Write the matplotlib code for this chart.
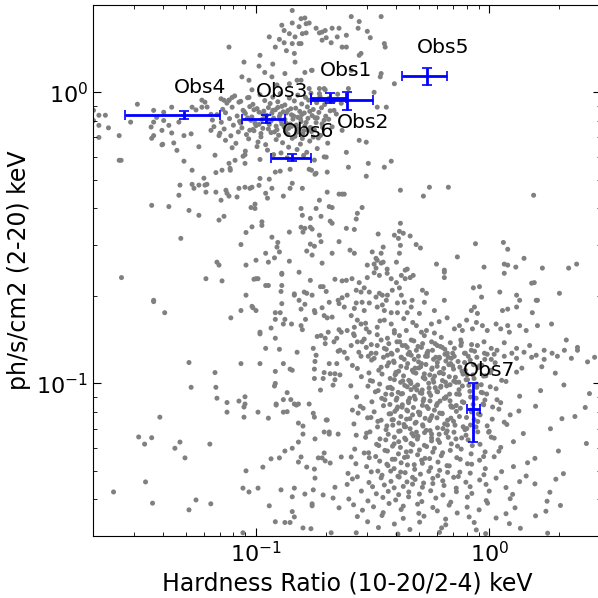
import matplotlib
matplotlib.use('Agg')
import matplotlib.pyplot as plt
import numpy as np

# Observations (hardness ratio, flux) with error bars
obs_names = ['Obs1', 'Obs2', 'Obs3', 'Obs4', 'Obs5', 'Obs6', 'Obs7']
obs_hr = [0.208, 0.245, 0.110, 0.049, 0.542, 0.143, 0.851]
obs_hr_lo = [0.036, 0.073, 0.0227, 0.0215, 0.119, 0.0273, 0.050]
obs_hr_hi = [0.036, 0.073, 0.023, 0.021, 0.120, 0.029, 0.061]
obs_flux = [0.956, 0.939, 0.812, 0.834, 1.135, 0.597, 0.0816]
obs_flux_err = [0.038, 0.067, 0.025, 0.027, 0.075, 0.015, 0.0185]

# Background sample, (hardness, flux) pairs
upper_plume = [
    (0.143, 1.91), (0.162, 1.80), (0.129, 1.70), (0.143, 1.73), (0.153, 1.68), (0.169, 1.73),
    (0.132, 1.63), (0.139, 1.59), (0.147, 1.55), (0.158, 1.59), (0.143, 1.47), (0.153, 1.47),
    (0.132, 1.48), (0.114, 1.55), (0.121, 1.43), (0.187, 1.60), (0.198, 1.63), (0.192, 1.51),
    (0.223, 1.55), (0.227, 1.66), (0.0766, 1.43), (0.104, 1.34), (0.0888, 1.27), (0.147, 1.27),
    (0.162, 1.17), (0.174, 1.19), (0.103, 1.23), (0.109, 1.17), (0.117, 1.13), (0.087, 1.13),
    (0.0933, 1.10), (0.123, 1.06), (0.139, 1.07), (0.150, 1.10), (0.079, 0.96), (0.0729, 0.939),
    (0.0766, 0.939), (0.0845, 0.925), (0.0933, 0.96), (0.0961, 1.02), (0.169, 1.03), (0.187, 0.99),
    (0.198, 1.02), (0.256, 1.82), (0.277, 1.75), (0.344, 1.82), (0.274, 1.66), (0.30, 1.62),
    (0.244, 1.57), (0.309, 1.54), (0.355, 1.47), (0.358, 1.43), (0.244, 1.43), (0.282, 1.36),
    (0.277, 1.34), (0.256, 1.19), (0.344, 1.16), (0.341, 1.13), (0.392, 1.07), (0.321, 1.00),
    (0.249, 1.03), (0.331, 0.889), (0.362, 0.889), (0.156, 1.79), (0.164, 1.72), (0.181, 1.66),
    (0.192, 1.61), (0.212, 1.66), (0.164, 1.60), (0.20, 1.54), (0.21, 1.48), (0.156, 1.47),
    (0.234, 1.43), (0.173, 1.19), (0.156, 1.10), (0.187, 1.03), (0.196, 1.03), (0.135, 1.39),
    (0.126, 1.52), (0.146, 1.36), (0.118, 1.25), (0.133, 1.16),
]

upper_band = [
    (0.081, 0.972), (0.092, 0.958), (0.104, 0.981), (0.118, 0.963), (0.127, 0.990), (0.139, 0.955),
    (0.151, 0.978), (0.163, 0.961), (0.172, 0.993), (0.188, 0.968), (0.205, 0.951), (0.224, 0.985),
    (0.075, 0.918), (0.086, 0.931), (0.097, 0.909), (0.109, 0.937), (0.115, 0.915), (0.124, 0.928),
    (0.133, 0.905), (0.146, 0.934), (0.157, 0.912), (0.168, 0.940), (0.182, 0.921), (0.197, 0.908),
    (0.215, 0.933), (0.232, 0.917),
    (0.072, 0.874), (0.079, 0.889), (0.088, 0.867), (0.094, 0.893), (0.101, 0.879), (0.108, 0.862),
    (0.113, 0.886), (0.121, 0.871), (0.129, 0.895), (0.137, 0.866), (0.148, 0.882), (0.154, 0.860),
    (0.166, 0.891), (0.176, 0.873), (0.191, 0.885), (0.208, 0.864),
    (0.068, 0.838), (0.074, 0.851), (0.083, 0.829), (0.090, 0.846), (0.096, 0.823), (0.103, 0.855),
    (0.111, 0.834), (0.117, 0.848), (0.126, 0.826), (0.131, 0.857), (0.142, 0.837), (0.151, 0.821),
    (0.161, 0.849), (0.174, 0.832), (0.186, 0.853), (0.199, 0.828), (0.221, 0.842),
    (0.065, 0.803), (0.071, 0.789), (0.077, 0.812), (0.085, 0.795), (0.092, 0.817), (0.099, 0.784),
    (0.106, 0.806), (0.112, 0.791), (0.119, 0.815), (0.128, 0.798), (0.135, 0.782), (0.144, 0.809),
    (0.156, 0.793), (0.167, 0.814), (0.181, 0.787), (0.196, 0.802),
    (0.066, 0.762), (0.073, 0.748), (0.080, 0.771), (0.087, 0.755), (0.094, 0.741), (0.100, 0.768),
    (0.107, 0.752), (0.114, 0.775), (0.123, 0.744), (0.132, 0.760), (0.140, 0.778), (0.152, 0.749),
    (0.162, 0.766), (0.178, 0.743), (0.193, 0.758),
    (0.070, 0.724), (0.078, 0.709), (0.084, 0.731), (0.091, 0.716), (0.098, 0.738), (0.105, 0.703),
    (0.116, 0.727), (0.125, 0.712), (0.134, 0.735), (0.147, 0.706), (0.159, 0.721), (0.173, 0.733),
    (0.189, 0.711),
    (0.074, 0.684), (0.082, 0.668), (0.093, 0.692), (0.102, 0.675), (0.110, 0.661), (0.122, 0.688),
    (0.130, 0.671), (0.143, 0.695), (0.155, 0.664), (0.170, 0.680), (0.185, 0.697), (0.203, 0.669),
    (0.079, 0.645), (0.090, 0.628), (0.101, 0.651), (0.112, 0.633), (0.128, 0.619), (0.138, 0.648),
    (0.150, 0.636), (0.165, 0.622), (0.183, 0.641),
    (0.088, 0.603), (0.104, 0.588), (0.119, 0.611), (0.136, 0.596), (0.160, 0.607), (0.178, 0.585),
    (0.20, 0.599), (0.196, 0.60), (0.173, 0.54), (0.181, 0.527), (0.234, 0.74), (0.216, 0.867),
    (0.086, 0.783), (0.095, 0.801), (0.103, 0.776), (0.109, 0.823), (0.116, 0.797), (0.122, 0.765),
    (0.127, 0.842), (0.133, 0.806), (0.138, 0.752), (0.145, 0.829), (0.149, 0.772), (0.155, 0.812),
    (0.160, 0.738), (0.164, 0.788), (0.171, 0.757), (0.179, 0.818), (0.097, 0.745), (0.105, 0.722),
    (0.113, 0.748), (0.120, 0.731), (0.129, 0.779), (0.137, 0.718), (0.142, 0.764), (0.150, 0.729),
    (0.158, 0.694), (0.167, 0.741), (0.176, 0.702), (0.089, 0.858), (0.098, 0.871), (0.107, 0.842),
    (0.118, 0.867), (0.124, 0.887), (0.135, 0.849), (0.141, 0.878), (0.157, 0.838), (0.170, 0.860),
    (0.183, 0.817), (0.192, 0.779), (0.205, 0.808), (0.212, 0.761),
]

left_tail = [
    (0.0201, 0.867), (0.0212, 0.834), (0.0226, 0.834), (0.0201, 0.80), (0.0212, 0.77), (0.0233, 0.755),
    (0.0259, 0.71), (0.0212, 0.70), (0.0310, 0.91), (0.0259, 0.584), (0.0264, 0.584), (0.0355, 0.76),
    (0.0364, 0.79), (0.0375, 0.82), (0.0402, 0.80), (0.0423, 0.77), (0.0395, 0.74), (0.0435, 0.725),
    (0.0467, 0.79), (0.0491, 0.71), (0.0527, 0.72), (0.0395, 0.66), (0.0444, 0.67), (0.0364, 0.71),
    (0.0290, 0.79), (0.0586, 0.94), (0.0553, 0.87), (0.0617, 0.89), (0.0641, 0.84), (0.0708, 0.95),
    (0.0766, 0.94), (0.0641, 0.74), (0.0694, 0.71), (0.0569, 0.65), (0.0491, 0.58), (0.0532, 0.54),
    (0.0472, 0.48), (0.0569, 0.48), (0.0604, 0.48), (0.0673, 0.53), (0.0715, 0.54), (0.0776, 0.54),
    (0.0766, 0.57), (0.0813, 0.584), (0.0897, 0.61), (0.0897, 0.57), (0.0604, 0.925), (0.0586, 0.889),
    (0.0532, 0.889), (0.0435, 0.889), (0.0402, 0.854), (0.0364, 0.867), (0.0357, 0.695), (0.0398, 0.663),
    (0.0458, 0.632), (0.0532, 0.483), (0.0542, 0.468), (0.0598, 0.507), (0.0616, 0.483), (0.0667, 0.608),
    (0.0774, 0.548),
]

bridge = [
    (0.0467, 0.443), (0.0516, 0.393), (0.0569, 0.378), (0.0357, 0.409), (0.0423, 0.405), (0.0610, 0.454),
    (0.0673, 0.454), (0.0743, 0.461), (0.0845, 0.468), (0.0708, 0.426), (0.0751, 0.45), (0.0829, 0.437),
    (0.0961, 0.472), (0.110, 0.45), (0.0694, 0.364), (0.0476, 0.315), (0.0906, 0.33), (0.0961, 0.345),
    (0.106, 0.359), (0.117, 0.318), (0.123, 0.294), (0.0265, 0.231), (0.0610, 0.229), (0.068, 0.261),
    (0.0694, 0.255), (0.0906, 0.255), (0.100, 0.265), (0.110, 0.28), (0.120, 0.27), (0.100, 0.229),
    (0.110, 0.217), (0.129, 0.239), (0.0906, 0.201), (0.129, 0.217), (0.146, 0.201), (0.0364, 0.193),
    (0.0766, 0.44), (0.0897, 0.472), (0.0942, 0.468), (0.103, 0.479), (0.104, 0.506), (0.114, 0.503),
    (0.117, 0.468), (0.112, 0.433), (0.131, 0.44), (0.121, 0.532), (0.127, 0.536), (0.0729, 0.375),
    (0.0952, 0.402), (0.099, 0.413), (0.099, 0.399), (0.106, 0.349), (0.124, 0.305), (0.0862, 0.30),
    (0.126, 0.283), (0.113, 0.261),
    (0.140, 0.468), (0.143, 0.487), (0.158, 0.468), (0.140, 0.544), (0.169, 0.544), (0.179, 0.523),
    (0.202, 0.532), (0.202, 0.454), (0.227, 0.447), (0.234, 0.447), (0.187, 0.426), (0.181, 0.399),
    (0.206, 0.405), (0.212, 0.402), (0.156, 0.399), (0.158, 0.378), (0.171, 0.369), (0.190, 0.375),
    (0.208, 0.361), (0.212, 0.355), (0.139, 0.331), (0.156, 0.344), (0.159, 0.331), (0.162, 0.341),
    (0.171, 0.344), (0.174, 0.339), (0.187, 0.323), (0.190, 0.307), (0.227, 0.307), (0.171, 0.301),
    (0.178, 0.296), (0.165, 0.285), (0.174, 0.276), (0.212, 0.28), (0.192, 0.259), (0.139, 0.263),
    (0.277, 0.684), (0.297, 0.674), (0.244, 0.622), (0.249, 0.553), (0.303, 0.57), (0.355, 0.553),
    (0.380, 0.58), (0.297, 0.515), (0.416, 0.461), (0.522, 0.44), (0.554, 0.472), (0.668, 0.472),
    (1.55, 0.443), (0.239, 0.447), (0.285, 0.402), (0.272, 0.384), (0.269, 0.367), (0.244, 0.341),
    (0.264, 0.338), (0.416, 0.355), (0.412, 0.333), (0.392, 0.323), (0.408, 0.315), (0.428, 0.328),
    (0.458, 0.321), (0.334, 0.326), (0.351, 0.294), (0.416, 0.298), (0.486, 0.30), (0.507, 0.292),
    (0.253, 0.287), (0.264, 0.28), (0.315, 0.283), (0.344, 0.28), (0.327, 0.269), (0.331, 0.265),
    (0.412, 0.28), (0.873, 0.302), (1.15, 0.305), (1.20, 0.289), (0.73, 0.272), (1.41, 0.269),
    (0.30, 0.255), (0.321, 0.257), (0.327, 0.249), (0.344, 0.259), (0.351, 0.261), (0.40, 0.261),
    (0.365, 0.247), (0.445, 0.247), (0.594, 0.257), (0.642, 0.245), (0.95, 0.251), (1.16, 0.257),
    (1.20, 0.255), (1.30, 0.251), (1.69, 0.249), (2.19, 0.249), (2.37, 0.257),
]

lower_left = [
    (0.0715, 0.225), (0.098, 0.228), (0.102, 0.229), (0.113, 0.217), (0.129, 0.237), (0.128, 0.207),
    (0.153, 0.241), (0.171, 0.226), (0.189, 0.215), (0.194, 0.215), (0.20, 0.207), (0.218, 0.228),
    (0.234, 0.225), (0.0364, 0.191), (0.0406, 0.175), (0.0862, 0.178), (0.097, 0.182), (0.100, 0.178),
    (0.078, 0.168), (0.121, 0.175), (0.127, 0.175), (0.129, 0.188), (0.146, 0.203), (0.153, 0.193),
    (0.162, 0.187), (0.161, 0.206), (0.165, 0.204), (0.174, 0.201), (0.156, 0.18), (0.178, 0.178),
    (0.179, 0.175), (0.192, 0.182), (0.206, 0.19), (0.196, 0.171), (0.202, 0.168), (0.212, 0.169),
    (0.225, 0.193), (0.227, 0.188), (0.234, 0.197), (0.121, 0.166), (0.133, 0.166), (0.142, 0.16),
    (0.131, 0.16), (0.156, 0.158), (0.158, 0.153), (0.163, 0.166), (0.116, 0.155), (0.104, 0.15),
    (0.121, 0.143), (0.110, 0.132), (0.126, 0.131), (0.150, 0.128), (0.176, 0.132), (0.181, 0.125),
    (0.183, 0.145), (0.190, 0.146), (0.198, 0.143), (0.204, 0.15), (0.198, 0.137), (0.216, 0.139),
    (0.222, 0.143), (0.227, 0.153), (0.232, 0.15), (0.225, 0.129), (0.229, 0.13), (0.0516, 0.118),
    (0.0862, 0.117), (0.104, 0.117), (0.131, 0.117), (0.179, 0.119), (0.206, 0.117), (0.222, 0.117),
    (0.121, 0.11), (0.140, 0.112), (0.178, 0.112), (0.196, 0.109), (0.208, 0.108), (0.218, 0.108),
    (0.229, 0.107), (0.0667, 0.109), (0.178, 0.104), (0.194, 0.104), (0.218, 0.103), (0.214, 0.0987),
    (0.189, 0.0949), (0.121, 0.10), (0.120, 0.098), (0.136, 0.093), (0.0527, 0.097), (0.0673, 0.097),
    (0.068, 0.089), (0.0751, 0.086), (0.0845, 0.087), (0.0897, 0.09), (0.0897, 0.085), (0.122, 0.085),
    (0.141, 0.088), (0.146, 0.085), (0.152, 0.085), (0.169, 0.085), (0.0961, 0.184), (0.104, 0.148),
    (0.143, 0.111), (0.131, 0.088), (0.136, 0.080), (0.126, 0.0555),
    (0.0387, 0.0766), (0.0751, 0.0797), (0.0888, 0.083), (0.0888, 0.0766), (0.102, 0.0797), (0.113, 0.076),
    (0.122, 0.0843), (0.131, 0.0797), (0.149, 0.0843), (0.176, 0.079), (0.178, 0.0766), (0.20, 0.0749),
    (0.152, 0.0731), (0.159, 0.0714), (0.159, 0.067), (0.152, 0.0629), (0.143, 0.0599), (0.133, 0.0586),
    (0.156, 0.0559), (0.152, 0.0537), (0.165, 0.0516), (0.178, 0.0508), (0.179, 0.0473), (0.179, 0.0645),
    (0.196, 0.0577), (0.196, 0.0681), (0.202, 0.0749), (0.206, 0.0681), (0.206, 0.067), (0.225, 0.067),
    (0.185, 0.0555), (0.192, 0.0555), (0.198, 0.0542), (0.208, 0.0533), (0.232, 0.0559), (0.0314, 0.0655),
    (0.0333, 0.0619), (0.0357, 0.0651), (0.0449, 0.0599), (0.0472, 0.0629), (0.0496, 0.0555), (0.0634, 0.0619),
    (0.0336, 0.0459), (0.0245, 0.0424), (0.0360, 0.0388), (0.0516, 0.0368), (0.0553, 0.0398), (0.064, 0.0386),
    (0.0906, 0.0501), (0.0879, 0.0437), (0.0933, 0.0424), (0.102, 0.0437), (0.107, 0.0516), (0.116, 0.0551),
    (0.128, 0.0431), (0.143, 0.0408), (0.146, 0.0437), (0.162, 0.0417), (0.176, 0.0431), (0.194, 0.0414),
    (0.214, 0.0404), (0.218, 0.044), (0.227, 0.0374), (0.114, 0.038), (0.143, 0.0363), (0.146, 0.0348),
    (0.121, 0.0335), (0.133, 0.0333), (0.140, 0.0333), (0.174, 0.0386), (0.174, 0.038), (0.159, 0.0319),
    (0.172, 0.0317), (0.0879, 0.0307), (0.21, 0.0307), (0.259, 0.081), (0.256, 0.0559),
]

lower_upper = [
    (0.244, 0.226), (0.258, 0.229), (0.277, 0.222), (0.30, 0.231), (0.321, 0.24), (0.338, 0.235),
    (0.365, 0.239), (0.380, 0.229), (0.40, 0.222), (0.420, 0.235), (0.436, 0.229), (0.458, 0.231),
    (0.472, 0.235), (0.436, 0.245), (0.642, 0.231), (0.642, 0.241), (1.16, 0.239), (1.52, 0.221),
    (1.56, 0.222), (0.246, 0.201), (0.269, 0.209), (0.282, 0.206), (0.291, 0.213), (0.306, 0.206),
    (0.327, 0.198), (0.338, 0.204), (0.348, 0.201), (0.362, 0.193), (0.366, 0.201), (0.384, 0.209),
    (0.412, 0.213), (0.420, 0.201), (0.404, 0.189), (0.432, 0.19), (0.463, 0.183), (0.467, 0.193),
    (0.517, 0.209), (0.527, 0.19), (0.538, 0.204), (0.582, 0.178), (0.642, 0.193), (0.855, 0.213),
    (0.908, 0.215), (0.927, 0.198), (1.11, 0.206), (1.31, 0.201), (1.35, 0.193), (1.61, 0.193),
    (2.0, 0.204), (0.269, 0.189), (0.285, 0.19), (0.306, 0.189), (0.331, 0.183), (0.348, 0.186),
    (0.355, 0.178), (0.380, 0.175), (0.404, 0.175), (0.445, 0.175), (0.502, 0.174), (0.864, 0.183),
    (0.838, 0.178), (0.890, 0.174), (1.14, 0.178), (1.20, 0.18), (1.31, 0.183), (1.53, 0.175),
    (1.59, 0.193), (0.239, 0.183), (0.264, 0.181), (0.291, 0.178),
    (0.256, 0.171), (0.272, 0.165), (0.282, 0.160), (0.297, 0.154), (0.246, 0.152), (0.264, 0.156),
    (0.306, 0.15), (0.331, 0.156), (0.355, 0.165), (0.380, 0.160), (0.392, 0.152), (0.412, 0.146),
    (0.441, 0.152), (0.487, 0.158), (0.512, 0.15), (0.538, 0.152), (0.565, 0.160), (0.582, 0.149),
    (0.623, 0.144), (0.709, 0.154), (0.745, 0.158), (0.767, 0.152), (0.847, 0.154), (0.881, 0.162),
    (0.935, 0.158), (0.981, 0.152), (1.07, 0.160), (1.12, 0.154), (1.20, 0.158), (1.22, 0.15),
    (1.35, 0.158), (1.44, 0.152), (1.61, 0.158), (1.85, 0.160), (2.14, 0.141), (2.39, 0.133),
    (0.264, 0.146), (0.291, 0.142), (0.331, 0.147), (0.366, 0.143), (0.392, 0.149), (0.463, 0.141),
    (0.527, 0.146),
    (0.239, 0.128), (0.256, 0.135), (0.272, 0.139), (0.297, 0.133), (0.312, 0.127), (0.331, 0.135),
    (0.355, 0.132), (0.380, 0.127), (0.404, 0.130), (0.424, 0.135), (0.445, 0.133), (0.463, 0.125),
    (0.487, 0.130), (0.512, 0.133), (0.543, 0.127), (0.571, 0.130), (0.599, 0.135), (0.629, 0.133),
    (0.661, 0.127), (0.709, 0.132), (0.76, 0.138), (0.783, 0.127), (0.838, 0.130), (0.890, 0.135),
    (0.954, 0.127), (1.02, 0.132), (1.08, 0.130), (1.16, 0.138), (1.25, 0.127), (1.31, 0.132),
    (1.41, 0.128), (1.49, 0.135), (1.59, 0.125), (1.72, 0.130), (1.86, 0.127), (2.10, 0.130),
    (2.39, 0.130), (2.83, 0.123), (0.246, 0.122), (0.282, 0.124), (0.321, 0.122), (0.366, 0.125),
    (0.420, 0.123), (0.477, 0.121), (0.543, 0.124), (0.611, 0.123), (0.688, 0.122), (1.02, 0.121),
    (1.16, 0.124), (1.31, 0.122), (1.52, 0.123), (1.72, 0.121), (1.96, 0.124), (2.25, 0.122),
    (0.262, 0.148), (0.285, 0.139), (0.312, 0.136), (0.344, 0.141), (0.371, 0.137), (0.402, 0.139),
    (0.437, 0.135), (0.475, 0.140), (0.518, 0.137), (0.566, 0.139), (0.617, 0.134), (0.681, 0.138),
    (0.755, 0.141), (0.84, 0.136), (0.95, 0.139), (0.276, 0.128), (0.303, 0.124), (0.327, 0.127),
    (0.352, 0.123), (0.383, 0.126), (0.419, 0.123), (0.455, 0.128), (0.497, 0.124), (0.541, 0.127),
    (0.59, 0.123), (0.646, 0.126), (0.708, 0.124), (0.79, 0.127), (0.885, 0.123), (1.05, 0.126),
    (0.295, 0.161), (0.34, 0.164), (0.43, 0.167), (0.47, 0.162), (0.61, 0.163), (0.66, 0.168),
    (0.80, 0.165),
]

lower_core = [
    (0.259, 0.1153), (0.313, 0.1203), (0.344, 0.1137), (0.371, 0.1178), (0.389, 0.1194), (0.418, 0.1145),
    (0.447, 0.1170), (0.481, 0.1129), (0.498, 0.1186), (0.535, 0.1162), (0.577, 0.1211), (0.598, 0.1145),
    (0.652, 0.1194), (0.683, 0.1170), (0.748, 0.1137), (0.829, 0.1203), (0.931, 0.1153), (1.06, 0.1178),
    (1.38, 0.1129), (2.64, 0.1186),
    (0.272, 0.1126), (0.305, 0.1087), (0.336, 0.1110), (0.365, 0.1149), (0.395, 0.1071), (0.409, 0.1102),
    (0.442, 0.1133), (0.473, 0.1094), (0.508, 0.1141), (0.527, 0.1079), (0.567, 0.1118), (0.611, 0.1087),
    (0.638, 0.1126), (0.697, 0.1149), (0.764, 0.1102), (0.803, 0.1071), (0.897, 0.1133), (1.02, 0.1110),
    (1.31, 0.1094), (1.68, 0.1141),
    (0.283, 0.1055), (0.316, 0.1018), (0.347, 0.1077), (0.376, 0.1040), (0.398, 0.1092), (0.429, 0.1062),
    (0.452, 0.1025), (0.485, 0.1085), (0.521, 0.1048), (0.556, 0.1070), (0.574, 0.1033), (0.617, 0.1092),
    (0.674, 0.1055), (0.705, 0.1018), (0.772, 0.1077), (0.861, 0.1040), (0.967, 0.1062), (1.13, 0.1025),
    (1.92, 0.1085),
    (0.255, 0.0981), (0.309, 0.1023), (0.339, 0.0995), (0.368, 0.0967), (0.392, 0.1030), (0.417, 0.1009),
    (0.445, 0.0974), (0.459, 0.1016), (0.493, 0.0988), (0.530, 0.1037), (0.550, 0.1002), (0.587, 0.0967),
    (0.630, 0.1023), (0.657, 0.0981), (0.721, 0.1009), (0.796, 0.1030), (0.885, 0.0995), (1.01, 0.0974),
    (1.18, 0.1016), (2.09, 0.0988),
    (0.302, 0.0979), (0.334, 0.0945), (0.360, 0.0919), (0.384, 0.0959), (0.407, 0.0932), (0.434, 0.0985),
    (0.462, 0.0952), (0.479, 0.0972), (0.514, 0.0925), (0.552, 0.0965), (0.596, 0.0939), (0.621, 0.0979),
    (0.676, 0.0919), (0.742, 0.0952), (0.818, 0.0985), (0.924, 0.0932), (1.07, 0.0959), (1.66, 0.0945),
    (0.270, 0.0898), (0.325, 0.0936), (0.357, 0.0879), (0.382, 0.0917), (0.402, 0.0891), (0.425, 0.0923),
    (0.450, 0.0872), (0.477, 0.0904), (0.506, 0.0929), (0.524, 0.0885), (0.561, 0.0910), (0.601, 0.0936),
    (0.650, 0.0891), (0.679, 0.0872), (0.745, 0.0917), (0.832, 0.0898), (0.936, 0.0929), (1.08, 0.0879),
    (1.35, 0.0904), (2.69, 0.0923),
    (0.280, 0.0835), (0.314, 0.0865), (0.346, 0.0889), (0.375, 0.0847), (0.399, 0.0877), (0.423, 0.0829),
    (0.451, 0.0859), (0.482, 0.0883), (0.517, 0.0841), (0.557, 0.0871), (0.599, 0.0853), (0.641, 0.0889),
    (0.700, 0.0829), (0.767, 0.0865), (0.853, 0.0847), (0.958, 0.0877), (1.12, 0.0859), (1.58, 0.0835),
    (0.288, 0.0822), (0.321, 0.0799), (0.352, 0.0839), (0.378, 0.0787), (0.401, 0.0816), (0.424, 0.0845),
    (0.447, 0.0804), (0.473, 0.0827), (0.504, 0.0793), (0.540, 0.0833), (0.582, 0.0810), (0.628, 0.0787),
    (0.684, 0.0839), (0.752, 0.0822), (0.839, 0.0799), (0.947, 0.0845), (1.10, 0.0816), (1.34, 0.0804),
    (2.58, 0.0827),
    (0.274, 0.0791), (0.311, 0.0764), (0.344, 0.0748), (0.372, 0.0786), (0.394, 0.0802), (0.418, 0.0770),
    (0.442, 0.0754), (0.469, 0.0780), (0.497, 0.0797), (0.531, 0.0759), (0.568, 0.0775), (0.613, 0.0791),
    (0.663, 0.0748), (0.723, 0.0802), (0.799, 0.0764), (0.898, 0.0786), (1.03, 0.0754), (1.23, 0.0780),
    (2.33, 0.0770),
    (0.263, 0.0726), (0.301, 0.0762), (0.333, 0.0741), (0.364, 0.0715), (0.388, 0.0751), (0.410, 0.0731),
    (0.433, 0.0710), (0.457, 0.0757), (0.486, 0.0736), (0.518, 0.0721), (0.555, 0.0746), (0.597, 0.0762),
    (0.644, 0.0726), (0.703, 0.0741), (0.773, 0.0710), (0.862, 0.0751), (0.980, 0.0715), (1.16, 0.0736),
    (2.05, 0.0757),
    (0.298, 0.0675), (0.332, 0.0709), (0.361, 0.0694), (0.386, 0.0719), (0.409, 0.0685), (0.431, 0.0723),
    (0.458, 0.0699), (0.487, 0.0680), (0.520, 0.0714), (0.558, 0.0689), (0.600, 0.0704), (0.653, 0.0675),
    (0.713, 0.0719), (0.787, 0.0694), (0.878, 0.0709), (1.00, 0.0685), (1.19, 0.0723), (1.83, 0.0699),
    (0.269, 0.0664), (0.308, 0.0682), (0.340, 0.0645), (0.369, 0.0669), (0.392, 0.0654), (0.415, 0.0687),
    (0.439, 0.0641), (0.466, 0.0673), (0.495, 0.0659), (0.528, 0.0678), (0.566, 0.0650), (0.610, 0.0669),
    (0.660, 0.0687), (0.720, 0.0645), (0.795, 0.0664), (0.893, 0.0682), (1.02, 0.0654), (1.40, 0.0673),
    (0.295, 0.0653), (0.329, 0.0618), (0.360, 0.0640), (0.385, 0.0609), (0.409, 0.0631), (0.434, 0.0649),
    (0.462, 0.0622), (0.492, 0.0644), (0.527, 0.0613), (0.566, 0.0635), (0.612, 0.0627), (0.667, 0.0653),
    (0.731, 0.0609), (0.812, 0.0640), (0.913, 0.0618), (1.05, 0.0649), (1.27, 0.0631), (2.61, 0.0622),
    (0.265, 0.0595), (0.304, 0.0578), (0.336, 0.0612), (0.366, 0.0586), (0.391, 0.0620), (0.416, 0.0603),
    (0.441, 0.0582), (0.470, 0.0616), (0.502, 0.0591), (0.539, 0.0607), (0.582, 0.0599), (0.631, 0.0578),
    (0.688, 0.0620), (0.758, 0.0595), (0.846, 0.0612), (0.960, 0.0582), (1.12, 0.0603), (1.98, 0.0586),
    (0.291, 0.0577), (0.326, 0.0561), (0.357, 0.0589), (0.384, 0.0549), (0.408, 0.0573), (0.433, 0.0557),
    (0.461, 0.0585), (0.493, 0.0569), (0.530, 0.0553), (0.573, 0.0581), (0.623, 0.0565), (0.681, 0.0589),
    (0.751, 0.0549), (0.836, 0.0573), (0.946, 0.0561), (1.10, 0.0585), (1.57, 0.0553),
    (0.268, 0.0530), (0.306, 0.0556), (0.339, 0.0541), (0.368, 0.0522), (0.394, 0.0549), (0.419, 0.0534),
    (0.446, 0.0560), (0.477, 0.0526), (0.513, 0.0545), (0.555, 0.0552), (0.603, 0.0537), (0.659, 0.0522),
    (0.726, 0.0556), (0.807, 0.0530), (0.909, 0.0545), (1.05, 0.0560), (1.46, 0.0534),
    (0.298, 0.0518), (0.333, 0.0500), (0.364, 0.0528), (0.391, 0.0510), (0.417, 0.0496), (0.446, 0.0525),
    (0.479, 0.0507), (0.517, 0.0532), (0.561, 0.0514), (0.613, 0.0503), (0.674, 0.0521), (0.748, 0.0496),
    (0.841, 0.0528), (0.962, 0.0510), (1.27, 0.0518),
]

core_fill = [
    (0.362, 0.131), (0.377, 0.097), (0.391, 0.118), (0.405, 0.083), (0.413, 0.139), (0.426, 0.102),
    (0.438, 0.071), (0.449, 0.126), (0.456, 0.089), (0.468, 0.111), (0.474, 0.066), (0.489, 0.095),
    (0.495, 0.134), (0.503, 0.078), (0.512, 0.117), (0.521, 0.087), (0.529, 0.104), (0.537, 0.069),
    (0.546, 0.129), (0.553, 0.093), (0.561, 0.076), (0.569, 0.113), (0.578, 0.101), (0.586, 0.137),
    (0.594, 0.084), (0.603, 0.064), (0.611, 0.122), (0.619, 0.097), (0.628, 0.079), (0.636, 0.108),
    (0.645, 0.131), (0.653, 0.090), (0.662, 0.072), (0.671, 0.116), (0.679, 0.099), (0.688, 0.083),
    (0.697, 0.127), (0.706, 0.068), (0.716, 0.105), (0.725, 0.092), (0.735, 0.119), (0.745, 0.077),
    (0.756, 0.135), (0.767, 0.098), (0.778, 0.086), (0.789, 0.111), (0.801, 0.070), (0.813, 0.124),
    (0.826, 0.094), (0.838, 0.081), (0.851, 0.107), (0.865, 0.129), (0.879, 0.089), (0.893, 0.074),
    (0.908, 0.115), (0.924, 0.099), (0.940, 0.085), (0.957, 0.121), (0.975, 0.092), (0.994, 0.068),
    (1.013, 0.109), (1.034, 0.083),
    (0.383, 0.075), (0.398, 0.108), (0.419, 0.092), (0.432, 0.121), (0.443, 0.081), (0.461, 0.100),
    (0.481, 0.073), (0.499, 0.113), (0.516, 0.095), (0.533, 0.124), (0.548, 0.082), (0.566, 0.067),
    (0.583, 0.106), (0.599, 0.118), (0.615, 0.087), (0.633, 0.070), (0.649, 0.101), (0.667, 0.123),
    (0.685, 0.076), (0.703, 0.112), (0.722, 0.084), (0.741, 0.101), (0.762, 0.065), (0.784, 0.118),
    (0.807, 0.103), (0.831, 0.072), (0.856, 0.116), (0.884, 0.097), (0.914, 0.078), (0.946, 0.106),
    (0.98, 0.126),
]

lower_bottom = [
    (0.248, 0.0491), (0.272, 0.0478), (0.312, 0.0497), (0.347, 0.0484), (0.378, 0.0500), (0.406, 0.0480),
    (0.436, 0.0494), (0.469, 0.0476), (0.507, 0.0488), (0.551, 0.0499), (0.602, 0.0482), (0.663, 0.0495),
    (0.737, 0.0479), (0.829, 0.0492), (0.949, 0.0486), (1.13, 0.0498), (1.44, 0.0481), (2.08, 0.0490),
    (0.259, 0.0470), (0.305, 0.0457), (0.344, 0.0474), (0.379, 0.0461), (0.411, 0.0477), (0.444, 0.0459),
    (0.481, 0.0468), (0.523, 0.0455), (0.573, 0.0472), (0.632, 0.0463), (0.704, 0.0476), (0.794, 0.0458),
    (0.910, 0.0466), (1.07, 0.0473), (1.35, 0.0460), (1.93, 0.0469),
    (0.246, 0.045), (0.316, 0.0442), (0.355, 0.0448), (0.391, 0.0438), (0.428, 0.0443), (0.469, 0.0451),
    (0.517, 0.0440), (0.573, 0.0453), (0.640, 0.0446), (0.722, 0.0437), (0.828, 0.0442), (0.969, 0.0450),
    (1.18, 0.0439), (1.57, 0.0452),
    (0.283, 0.0427), (0.328, 0.0418), (0.369, 0.0426), (0.409, 0.0415), (0.452, 0.0424), (0.502, 0.0417),
    (0.561, 0.0428), (0.633, 0.0414), (0.723, 0.0425), (0.842, 0.0419), (1.00, 0.0427), (1.26, 0.0416),
    (1.82, 0.0423),
    (0.250, 0.0401), (0.302, 0.0395), (0.350, 0.0406), (0.397, 0.0398), (0.451, 0.0408), (0.514, 0.0393),
    (0.590, 0.0404), (0.684, 0.0391), (0.806, 0.0407), (0.971, 0.0396), (1.23, 0.0402), (1.77, 0.0394),
    (0.262, 0.0383), (0.319, 0.0377), (0.372, 0.0387), (0.428, 0.0379), (0.493, 0.0385), (0.573, 0.0375),
    (0.673, 0.0382), (0.804, 0.0376), (0.984, 0.0388), (1.29, 0.0374), (2.02, 0.0381),
    (0.286, 0.0367), (0.351, 0.0360), (0.419, 0.0369), (0.499, 0.0358), (0.599, 0.0365), (0.729, 0.0359),
    (0.905, 0.0368), (1.18, 0.0357), (1.75, 0.0364),
    (0.272, 0.0349), (0.347, 0.0352), (0.428, 0.0344), (0.525, 0.0350), (0.650, 0.0342), (0.820, 0.0348),
    (1.07, 0.0345), (1.58, 0.0351),
    (0.301, 0.0335), (0.392, 0.0329), (0.503, 0.0334), (0.651, 0.0327), (0.862, 0.0333), (1.22, 0.0330),
    (0.335, 0.0320), (0.457, 0.0315), (0.625, 0.0319), (0.880, 0.0314), (1.36, 0.0318),
    (0.269, 0.0307), (0.406, 0.0304), (0.612, 0.0308), (0.965, 0.0305), (1.78, 0.0306),
]

# pixel offsets of each label from its observation
label_offsets = [(-10, 22), (-10, -28), (-10, 22), (-10, 22), (-10, 23), (-10, 21), (-10, 33)]

background = (upper_plume + upper_band + left_tail + bridge + lower_left + lower_upper
              + lower_core + core_fill + lower_bottom)
bg_hr = np.array([p[0] for p in background])
bg_flux = np.array([p[1] for p in background])

fig = plt.figure(figsize=(5.98, 5.98), dpi=100)
ax = fig.add_axes([0.1555, 0.1042, 0.8487, 0.888])

ax.scatter(bg_hr, bg_flux, s=13, c='#808080', edgecolors='none', zorder=1)

ax.errorbar(obs_hr, obs_flux, xerr=[obs_hr_lo, obs_hr_hi], yerr=[obs_flux_err, obs_flux_err],
            fmt='none', ecolor='b', elinewidth=2, capsize=3.5, capthick=1.2, zorder=3)

for name, x, y, off in zip(obs_names, obs_hr, obs_flux, label_offsets):
    ax.annotate(name, (x, y), xytext=off, textcoords='offset pixels',
                fontsize=14.7, ha='left', va='baseline', zorder=4)

ax.set_xscale('log')
ax.set_yscale('log')
ax.set_xlim(0.02, 3)
ax.set_ylim(0.03, 2)

ax.set_xlabel('Hardness Ratio (10-20/2-4) keV', fontsize=17)
ax.set_ylabel('ph/s/cm2 (2-20) keV', fontsize=17)

ax.tick_params(which='both', direction='in', top=True, right=True, labelsize=16)
ax.tick_params(which='major', length=6)
ax.tick_params(which='minor', length=3)

fig.savefig('out.png', dpi=100)
